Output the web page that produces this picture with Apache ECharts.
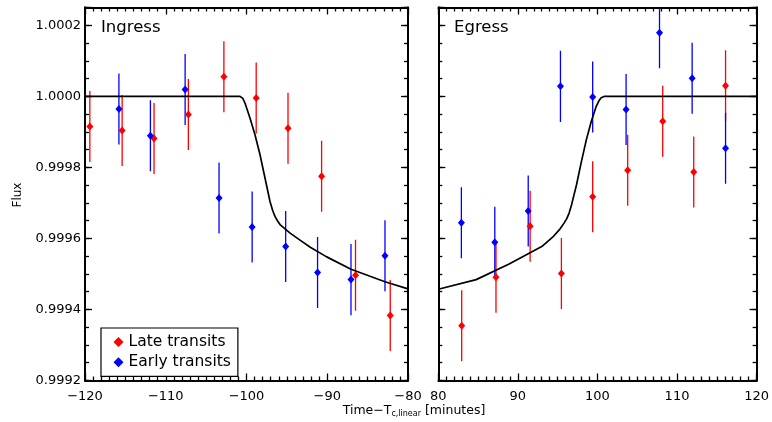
<!DOCTYPE html>
<html>
<head>
<meta charset="utf-8">
<script src="https://cdn.jsdelivr.net/npm/echarts@6/dist/echarts.min.js"></script>
<style>html,body{margin:0;padding:0;background:#fff;}#c{width:772px;height:422px;}</style>
</head>
<body>
<div id="c"></div>
<script>
// ---------- data ----------
var ingressLateX  = [-119.4, -115.4, -111.45, -107.2, -102.8, -98.8, -94.86, -90.7, -86.5, -82.2];
var ingressLateY  = [0.999915, 0.999904, 0.999881, 0.999949, 1.000055, 0.999995, 0.99991, 0.999775, 0.999496, 0.999383];
var ingressLateErr = [0.0001, 0.0001, 0.0001, 0.0001, 0.0001, 0.0001, 0.0001, 0.0001, 0.0001, 0.0001];

var ingressEarlyX = [-115.8, -111.9, -107.6, -103.4, -99.3, -95.15, -91.2, -87.06, -82.85];
var ingressEarlyY = [0.999964, 0.999889, 1.000019, 0.999714, 0.999632, 0.999577, 0.999504, 0.999484, 0.999551];
var ingressEarlyErr = [0.0001, 0.0001, 0.0001, 0.0001, 0.0001, 0.0001, 0.0001, 0.0001, 0.0001];

var egressLateX  = [82.94, 87.25, 91.54, 95.47, 99.4, 103.8, 108.2, 112.1, 116.1];
var egressLateY  = [0.999354, 0.999491, 0.999634, 0.999501, 0.999717, 0.999792, 0.99993, 0.999787, 1.00003];
var egressLateErr = [0.0001, 0.0001, 0.0001, 0.0001, 0.0001, 0.0001, 0.0001, 0.0001, 0.0001];

var egressEarlyX = [82.9, 87.1, 91.3, 95.35, 99.4, 103.6, 107.8, 111.9, 116.1];
var egressEarlyY = [0.999644, 0.999589, 0.999677, 1.000028, 0.999998, 0.999963, 1.000179, 1.000051, 0.999854];
var egressEarlyErr = [0.0001, 0.0001, 0.0001, 0.0001, 0.0001, 0.0001, 0.0001, 0.0001, 0.0001];

var ingressModelX = [-120, -100.8, -100.45, -100.19, -99.57, -98.95, -98.33, -97.71, -97.09, -96.75, -96.47, -96.15, -95.85, -94.6, -93.37, -92.1, -90.07, -87.06, -82.85, -80];
var ingressModelY = [1, 1, 0.999994, 0.999981, 0.999939, 0.999892, 0.999836, 0.99977, 0.999704, 0.999678, 0.999662, 0.999649, 0.999639, 0.999615, 0.999595, 0.999575, 0.999548, 0.999513, 0.999478, 0.999458];

var egressModelX = [80, 84.76, 88.9, 93.0, 94.48, 95.31, 95.8, 96.13, 96.45, 96.75, 97.37, 97.99, 98.61, 99.23, 99.85, 100.2, 100.47, 100.9, 120];
var egressModelY = [0.999457, 0.999484, 0.999528, 0.999577, 0.999606, 0.999627, 0.999643, 0.999655, 0.999672, 0.999695, 0.999751, 0.999817, 0.999878, 0.99993, 0.999972, 0.999988, 0.999996, 1, 1];

var ingressTicks = [-120, -110, -100, -90, -80];
var egressTicks = [80, 90, 100, 110, 120];
var fluxTicks = [0.9992, 0.9994, 0.9996, 0.9998, 1.0000, 1.0002];

var seriesNames = ['Late transits', 'Early transits'];
var panelTitles = ['Ingress', 'Egress'];
var axisTitleX = 'Time−T';
var axisTitleSub = 'c,linear';
var axisTitleUnit = ' [minutes]';
var axisTitleY = 'Flux';

// ---------- helpers ----------
function zip(xs, ys) { return xs.map(function (x, i) { return [x, ys[i]]; }); }
function zip3(xs, ys, es) { return xs.map(function (x, i) { return [x, ys[i], es[i]]; }); }

var RED = '#ff0000', BLUE = '#0000ff', BLACK = '#000000';
var FONT = 'DejaVu Sans';
var YMIN = 0.9992, YMAX = 1.00025;

function axLine() { return { show: true, onZero: false, lineStyle: { color: BLACK, width: 1.8 } }; }
function majorTick() { return { show: true, inside: true, length: 7, lineStyle: { color: BLACK, width: 1.3 } }; }
function minorTickStyle() { return { show: true, inside: true, length: 4, lineStyle: { color: BLACK, width: 1.3 } }; }

function xAxes(gi, xmin, xmax, ticks) {
  var bottom = {
    type: 'value', gridIndex: gi, min: xmin, max: xmax, interval: 10, position: 'bottom',
    axisLine: axLine(), axisTick: majorTick(),
    minorTick: { show: true, splitNumber: 10, length: 4, lineStyle: { color: BLACK, width: 1.3 } },
    splitLine: { show: false }, minorSplitLine: { show: false },
    axisLabel: {
      show: true, margin: 10, color: BLACK, fontFamily: FONT, fontSize: 13,
      formatter: function (v) {
        var r = Math.round(v);
        if (ticks.indexOf(r) < 0) return '';
        return r < 0 ? '−' + Math.abs(r) : String(r);
      }
    }
  };
  var top = {
    type: 'value', gridIndex: gi, min: xmin, max: xmax, interval: 10, position: 'top',
    axisLine: axLine(), axisTick: majorTick(),
    minorTick: { show: true, splitNumber: 10, length: 4, lineStyle: { color: BLACK, width: 1.3 } },
    splitLine: { show: false }, minorSplitLine: { show: false },
    axisLabel: { show: false }
  };
  return [bottom, top];
}

function yAxes(gi, showLabels) {
  var leftMajor = {
    type: 'value', gridIndex: gi, min: YMIN, max: YMAX, interval: 0.0002, position: 'left',
    axisLine: axLine(), axisTick: majorTick(), splitLine: { show: false },
    axisLabel: {
      show: showLabels, margin: 4, color: BLACK, fontFamily: FONT, fontSize: 13,
      formatter: function (v) {
        var hit = fluxTicks.some(function (t) { return Math.abs(t - v) < 1e-8; });
        return hit ? v.toFixed(4) : '';
      }
    }
  };
  var leftMinor = {
    type: 'value', gridIndex: gi, min: YMIN, max: YMAX, interval: 0.00005, position: 'left',
    axisLine: axLine(), axisTick: minorTickStyle(),
    axisLabel: { show: false }, splitLine: { show: false }
  };
  var rightMajor = {
    type: 'value', gridIndex: gi, min: YMIN, max: YMAX, interval: 0.0002, position: 'right',
    axisLine: axLine(), axisTick: majorTick(),
    splitLine: { show: false }, axisLabel: { show: false }
  };
  var rightMinor = {
    type: 'value', gridIndex: gi, min: YMIN, max: YMAX, interval: 0.00005, position: 'right',
    axisLine: axLine(), axisTick: minorTickStyle(),
    axisLabel: { show: false }, splitLine: { show: false }
  };
  return [leftMajor, leftMinor, rightMajor, rightMinor];
}

function errSeries(name, data, color, xi, yi) {
  return {
    name: name, type: 'custom', xAxisIndex: xi, yAxisIndex: yi, clip: true, z: 2,
    data: data,
    renderItem: function (params, api) {
      var x = api.value(0), y = api.value(1), e = api.value(2);
      var p1 = api.coord([x, y - e]);
      var p2 = api.coord([x, y + e]);
      return {
        type: 'line',
        shape: { x1: p1[0], y1: p1[1], x2: p2[0], y2: p2[1] },
        style: { stroke: color, lineWidth: 1.3 }
      };
    }
  };
}

function ptSeries(name, data, color, xi, yi) {
  return {
    name: name, type: 'scatter', xAxisIndex: xi, yAxisIndex: yi, z: 3,
    symbol: 'diamond', symbolSize: [7, 8],
    itemStyle: { color: color, opacity: 1 },
    data: data, clip: true
  };
}

function modelSeries(data, xi, yi) {
  return {
    name: 'model', type: 'line', xAxisIndex: xi, yAxisIndex: yi, z: 4,
    data: data, showSymbol: false, smooth: false,
    lineStyle: { color: BLACK, width: 1.7, join: 'round' }, clip: true
  };
}

var xs = xAxes(0, -120, -80, ingressTicks).concat(xAxes(1, 80, 120, egressTicks));
var ys = yAxes(0, true).concat(yAxes(1, false));
// xAxis index: 0 bottom g0, 1 top g0, 2 bottom g1, 3 top g1
// yAxis index: 0..3 grid 0 (0 = main left), 4..7 grid 1 (4 = main left)

var option = {
  animation: false,
  backgroundColor: '#ffffff',
  grid: [
    { left: 85, right: 364, top: 7.5, bottom: 41.5, containLabel: false },
    { left: 438.3, right: 11.3, top: 7.5, bottom: 41.5, containLabel: false }
  ],
  xAxis: xs,
  yAxis: ys,
  legend: {
    show: true, data: seriesNames, orient: 'vertical', left: 101, top: 328,
    backgroundColor: '#fff',
    borderColor: BLACK, borderWidth: 1.2, borderRadius: 0,
    padding: [6, 7, 6, 12.5], itemGap: 4.3, itemWidth: 10, itemHeight: 10,
    icon: 'diamond', selectedMode: false,
    textStyle: { color: BLACK, fontFamily: FONT, fontSize: 15.5, lineHeight: 14 }
  },
  series: [
    errSeries('late-err-i', zip3(ingressLateX, ingressLateY, ingressLateErr), RED, 0, 0),
    errSeries('early-err-i', zip3(ingressEarlyX, ingressEarlyY, ingressEarlyErr), BLUE, 0, 0),
    ptSeries(seriesNames[0], zip(ingressLateX, ingressLateY), RED, 0, 0),
    ptSeries(seriesNames[1], zip(ingressEarlyX, ingressEarlyY), BLUE, 0, 0),
    modelSeries(zip(ingressModelX, ingressModelY), 0, 0),
    errSeries('late-err-e', zip3(egressLateX, egressLateY, egressLateErr), RED, 2, 4),
    errSeries('early-err-e', zip3(egressEarlyX, egressEarlyY, egressEarlyErr), BLUE, 2, 4),
    ptSeries(seriesNames[0], zip(egressLateX, egressLateY), RED, 2, 4),
    ptSeries(seriesNames[1], zip(egressEarlyX, egressEarlyY), BLUE, 2, 4),
    modelSeries(zip(egressModelX, egressModelY), 2, 4)
  ],
  graphic: [
    { type: 'text', x: 101, y: 28, z: 10,
      style: { text: panelTitles[0], fill: BLACK, font: '16.5px "DejaVu Sans"', textVerticalAlign: 'middle' } },
    { type: 'text', x: 454, y: 28, z: 10,
      style: { text: panelTitles[1], fill: BLACK, font: '16.5px "DejaVu Sans"', textVerticalAlign: 'middle' } },
    { type: 'text', x: 18, y: 195, rotation: Math.PI / 2, z: 10,
      style: { text: axisTitleY, fill: BLACK, font: '12px "DejaVu Sans"', textAlign: 'center', textVerticalAlign: 'middle' } },
    { type: 'text', x: 414, y: 411, z: 10,
      style: {
        text: '{a|' + axisTitleX + '}{s|' + axisTitleSub + '}{a|' + axisTitleUnit + '}',
        textAlign: 'center', textVerticalAlign: 'middle',
        rich: {
          a: { fontFamily: FONT, fontSize: 12.5, fill: BLACK, color: BLACK },
          s: { fontFamily: FONT, fontSize: 8, fill: BLACK, color: BLACK, padding: [6, 0, 0, 0] }
        }
      } }
  ]
};

var chart = echarts.init(document.getElementById('c'), null, { renderer: 'canvas' });
chart.setOption(option);
</script>
</body>
</html>
